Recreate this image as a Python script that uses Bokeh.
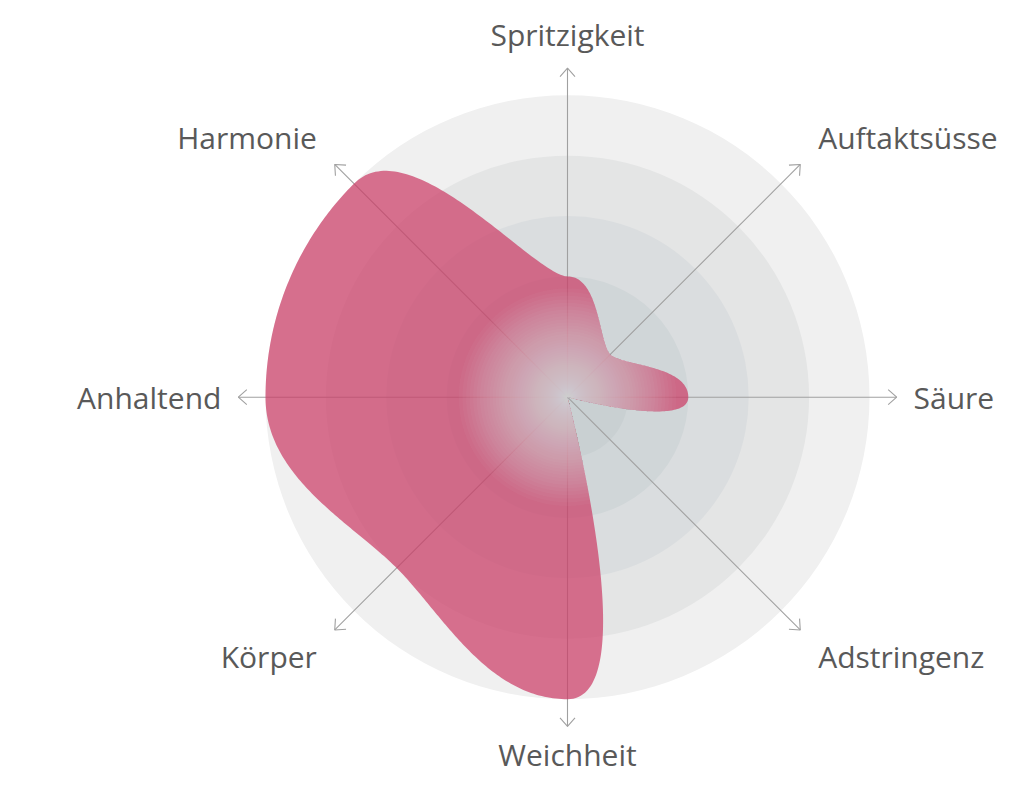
import numpy as np
from bokeh.plotting import figure
from bokeh.models import Range1d
from bokeh.embed import file_html
from bokeh.resources import INLINE
from bokeh.core.properties import value

# ---------------- data ----------------
categories = ["Spritzigkeit", "Auftaktsüsse", "Säure", "Adstringenz",
              "Weichheit", "Körper", "Anhaltend", "Harmonie"]
values = [2, 1, 2, 0, 5, 4, 5, 5]
ring_levels = [5, 4, 3, 2, 1]
max_value = 5

# ---------------- styling ----------------
ring_colors = ["#f0f0f0", "#e4e5e5", "#dadddf", "#d0d6d8", "#c9d0d2"]
shape_color = "#cc3d66"
shape_alpha = 0.72
glow_color = "#eeeeee"
axis_color = "#a0a0a0"
label_color = "#595959"

W, H = 1020, 786
PX = 60.4                      # pixels per value unit
cx_px, cy_px = 567.0, 396.7    # chart centre inside the figure

p = figure(width=W, height=H, output_backend="svg", toolbar_location=None,
           x_range=Range1d(-cx_px / PX, (W - cx_px) / PX),
           y_range=Range1d(-(H - cy_px) / PX, cy_px / PX),
           x_axis_type=None, y_axis_type=None, min_border=0,
           outline_line_color=None, background_fill_color="white",
           border_fill_color="white")
p.grid.visible = False

n = len(categories)
theta = np.pi / 2 - np.arange(n) * 2 * np.pi / n

# rings
rr = p.circle(x=[0] * len(ring_levels), y=[0] * len(ring_levels), radius=ring_levels,
              fill_color=ring_colors, line_color=None)
rr.level = "image"

# axes with open arrow heads
tip_r = max_value + 0.45
tx, ty = tip_r * np.cos(theta), tip_r * np.sin(theta)
sr = p.segment(x0=[0] * n, y0=[0] * n, x1=tx, y1=ty, line_color=axis_color, line_width=1.1)
sr.level = "underlay"
back = 8.5 / PX
half = 7.5 / PX
ux, uy = np.cos(theta), np.sin(theta)
vx, vy = -uy, ux
wx = [[tx[i] - back * ux[i] + half * vx[i], tx[i], tx[i] - back * ux[i] - half * vx[i]] for i in range(n)]
wy = [[ty[i] - back * uy[i] + half * vy[i], ty[i], ty[i] - back * uy[i] - half * vy[i]] for i in range(n)]
hr = p.multi_line(xs=wx, ys=wy, line_color=axis_color, line_width=1.1)
hr.level = "underlay"

# smooth data shape: cubic Bezier segments with handles perpendicular to the radius
v = np.array(values, dtype=float)
px_, py_ = v * np.cos(theta), v * np.sin(theta)
tgx, tgy = np.sin(theta), -np.cos(theta)  # clockwise tangent
k = 4.0 / 3.0 * np.tan(np.pi / (2 * n))
tt = np.linspace(0, 1, 80, endpoint=False)
xs, ys = [], []
for i in range(n):
    j = (i + 1) % n
    P0 = np.array([px_[i], py_[i]])
    P3 = np.array([px_[j], py_[j]])
    C1 = P0 + k * v[i] * np.array([tgx[i], tgy[i]])
    C2 = P3 - k * v[j] * np.array([tgx[j], tgy[j]])
    b = ((1 - tt) ** 3)[:, None] * P0 + (3 * (1 - tt) ** 2 * tt)[:, None] * C1 \
        + (3 * (1 - tt) * tt ** 2)[:, None] * C2 + (tt ** 3)[:, None] * P3
    xs.extend(b[:, 0]); ys.extend(b[:, 1])
xs = np.array(xs); ys = np.array(ys)
p.patch(xs, ys, fill_color=shape_color, fill_alpha=shape_alpha, line_color=None)

# radial light glow inside the shape (shape clipped to shrinking discs)
rad = np.hypot(xs, ys)
N = 64
glow_R = 1.8 * (np.arange(1, N + 1) / N) ** 2.2
gx, gy = [], []
for R in glow_R:
    s = np.minimum(1.0, R / np.maximum(rad, 1e-9))
    gx.append(list(xs * s)); gy.append(list(ys * s))
p.patches(gx, gy, fill_color=glow_color, fill_alpha=0.038, line_color=None)

# labels
lx, ly, aligns = [], [], []
for t in theta:
    c, s = np.cos(t), np.sin(t)
    if abs(c) < 0.1:
        aligns.append("center"); lx.append(0.0); ly.append(6.0 if s > 0 else -5.92)
    elif abs(s) < 0.1:
        aligns.append("left" if c > 0 else "right"); lx.append(5.73 * np.sign(c)); ly.append(0.0)
    else:
        aligns.append("left" if c > 0 else "right")
        lx.append(4.15 * np.sign(c)); ly.append(4.3 * np.sign(s))
p.text(x=lx, y=ly, text=categories,
       text_align=aligns, text_baseline="middle", text_color=label_color,
       text_font=value("Open Sans"), text_font_size="30px")

open("out.html", "w").write(file_html(p, INLINE))
